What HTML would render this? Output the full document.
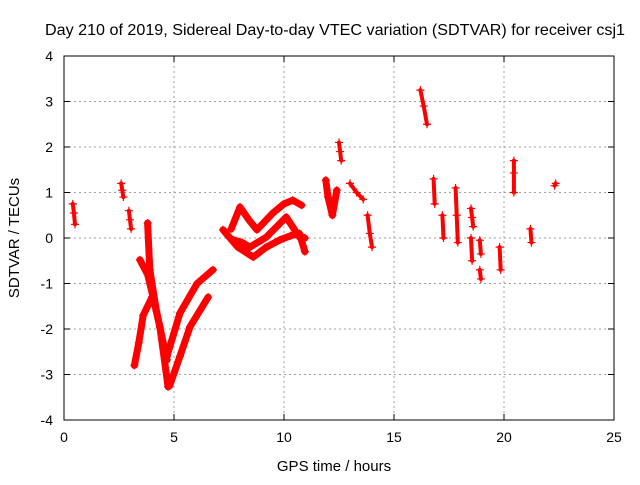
<!DOCTYPE html>
<html><head><meta charset="utf-8"><style>
body{margin:0;background:#fff;}
svg text{font-family:"Liberation Sans",sans-serif;font-size:14px;fill:#000;}
</style></head><body>
<svg id="chart" width="640" height="480" viewBox="0 0 640 480" xmlns="http://www.w3.org/2000/svg">
<rect width="640" height="480" fill="#fff"/>
<text x="335" y="35" text-anchor="middle" style="font-size:16px" textLength="580" lengthAdjust="spacingAndGlyphs">Day 210 of 2019, Sidereal Day-to-day VTEC variation (SDTVAR) for receiver csj1</text>
<text x="334" y="471" text-anchor="middle" style="font-size:15px">GPS time / hours</text>
<text transform="translate(19,238) rotate(-90)" text-anchor="middle" style="font-size:15px">SDTVAR / TECUs</text>
<g id="grid"></g><g id="ticks"></g><g id="marks"></g>
<rect x="64" y="56" width="550" height="364" fill="none" stroke="#000" stroke-width="1"/>
</svg>
<script>
const xTicks=[0,5,10,15,20,25];
const yTicks=[-4,-3,-2,-1,0,1,2,3,4];
// tracks: times (hours) and values (TECU)
const trackTimes=[
[0.4,0.45,0.5],
[2.6,2.65,2.7],
[2.95,3.0,3.05],
[3.2,3.4,3.6,3.8,4.0],
[3.45,3.8,4.05,4.36,4.73],
[3.8,3.9,4.2,4.68],
[4.68,5.27,6.05,6.77],
[4.8,5.27,5.73,6.55],
[7.23,7.9,8.6,9.2,9.82,10.3,10.7,10.95],
[7.6,8.0,8.4,8.77,9.5,10.0,10.4,10.8],
[7.7,8.1,8.45,9.2,10.1,10.7,10.95],
[11.9,12.0,12.2,12.4],
[12.5,12.55,12.6],
[13.0,13.3,13.6],
[13.8,13.9,14.0],
[16.2,16.35,16.5],
[16.8,16.85],
[17.2,17.25],
[17.8,17.85,17.9],
[18.5,18.55,18.6],
[18.5,18.55],
[18.9,18.95],
[18.9,18.95],
[19.8,19.85],
[20.45,20.45,20.45],
[21.2,21.25],
[22.3,22.35]
];
const trackValues=[
[0.75,0.55,0.3],
[1.2,1.05,0.9],
[0.6,0.4,0.2],
[-2.8,-2.3,-1.7,-1.5,-1.3],
[-0.48,-0.8,-1.3,-1.96,-3.27],
[0.33,-0.7,-1.6,-2.68],
[-2.6,-1.65,-1.0,-0.7],
[-3.25,-2.6,-1.95,-1.3],
[0.18,-0.2,-0.42,-0.2,-0.04,0.05,0.1,-0.3],
[0.2,0.68,0.4,0.18,0.55,0.75,0.83,0.72],
[-0.04,-0.1,-0.2,0.02,0.46,0.02,0.0],
[1.27,0.9,0.5,1.05],
[2.1,1.9,1.7],
[1.2,1.0,0.85],
[0.5,0.1,-0.2],
[3.25,2.9,2.5],
[1.3,0.75],
[0.5,0.0],
[1.1,0.5,-0.1],
[0.65,0.45,0.25],
[0.0,-0.5],
[-0.05,-0.35],
[-0.7,-0.9],
[-0.2,-0.7],
[1.7,1.43,1.0],
[0.2,-0.1],
[1.15,1.2]
];
const X=h=>64+h*22, Y=v=>238-v*45.5;
const NS="http://www.w3.org/2000/svg";
function mk(t,a,p){const e=document.createElementNS(NS,t);for(const k in a)e.setAttribute(k,a[k]);p.appendChild(e);return e;}
const grid=document.getElementById('grid'),ticks=document.getElementById('ticks'),marks=document.getElementById('marks');
xTicks.forEach(t=>{
  const x=X(t);
  if(t>0&&t<25){const g=mk('line',{x1:x,x2:x,y1:56,y2:420,stroke:'#a0a0a0','stroke-dasharray':'2,3'},grid);
  
  }
  mk('line',{x1:x,x2:x,y1:420,y2:414,stroke:'#000'},ticks);
  mk('line',{x1:x,x2:x,y1:56,y2:62,stroke:'#000'},ticks);
  const l=mk('text',{x:x,y:442,'text-anchor':'middle'},ticks);l.textContent=t;
  
  
});
yTicks.forEach(t=>{
  const y=Y(t);
  if(t>-4&&t<4){const g=mk('line',{x1:64,x2:614,y1:y,y2:y,stroke:'#a0a0a0','stroke-dasharray':'2,3'},grid);
  
  }
  mk('line',{x1:64,x2:70,y1:y,y2:y,stroke:'#000'},ticks);
  mk('line',{x1:614,x2:608,y1:y,y2:y,stroke:'#000'},ticks);
  const l=mk('text',{x:53,y:y+5,'text-anchor':'end'},ticks);l.textContent=t;
  
  
});
trackTimes.forEach((ts,i)=>{
  const vs=trackValues[i];
  const pts=ts.map((t,j)=>X(t)+','+Y(vs[j])).join(' ');
  const pl=mk('polyline',{points:pts,fill:'none',stroke:'#f00','stroke-width':(ts.length>3?7:4),'stroke-linejoin':'round','stroke-linecap':'round'},marks);
  
  
  ts.forEach((t,j)=>{
    const x=X(t),y=Y(vs[j]);
    const m=mk('path',{d:`M${x-4},${y}h8M${x},${y-4}v8`,stroke:'#f00','stroke-width':1.2},marks);
    
    
  });
});
</script>
</body></html>
